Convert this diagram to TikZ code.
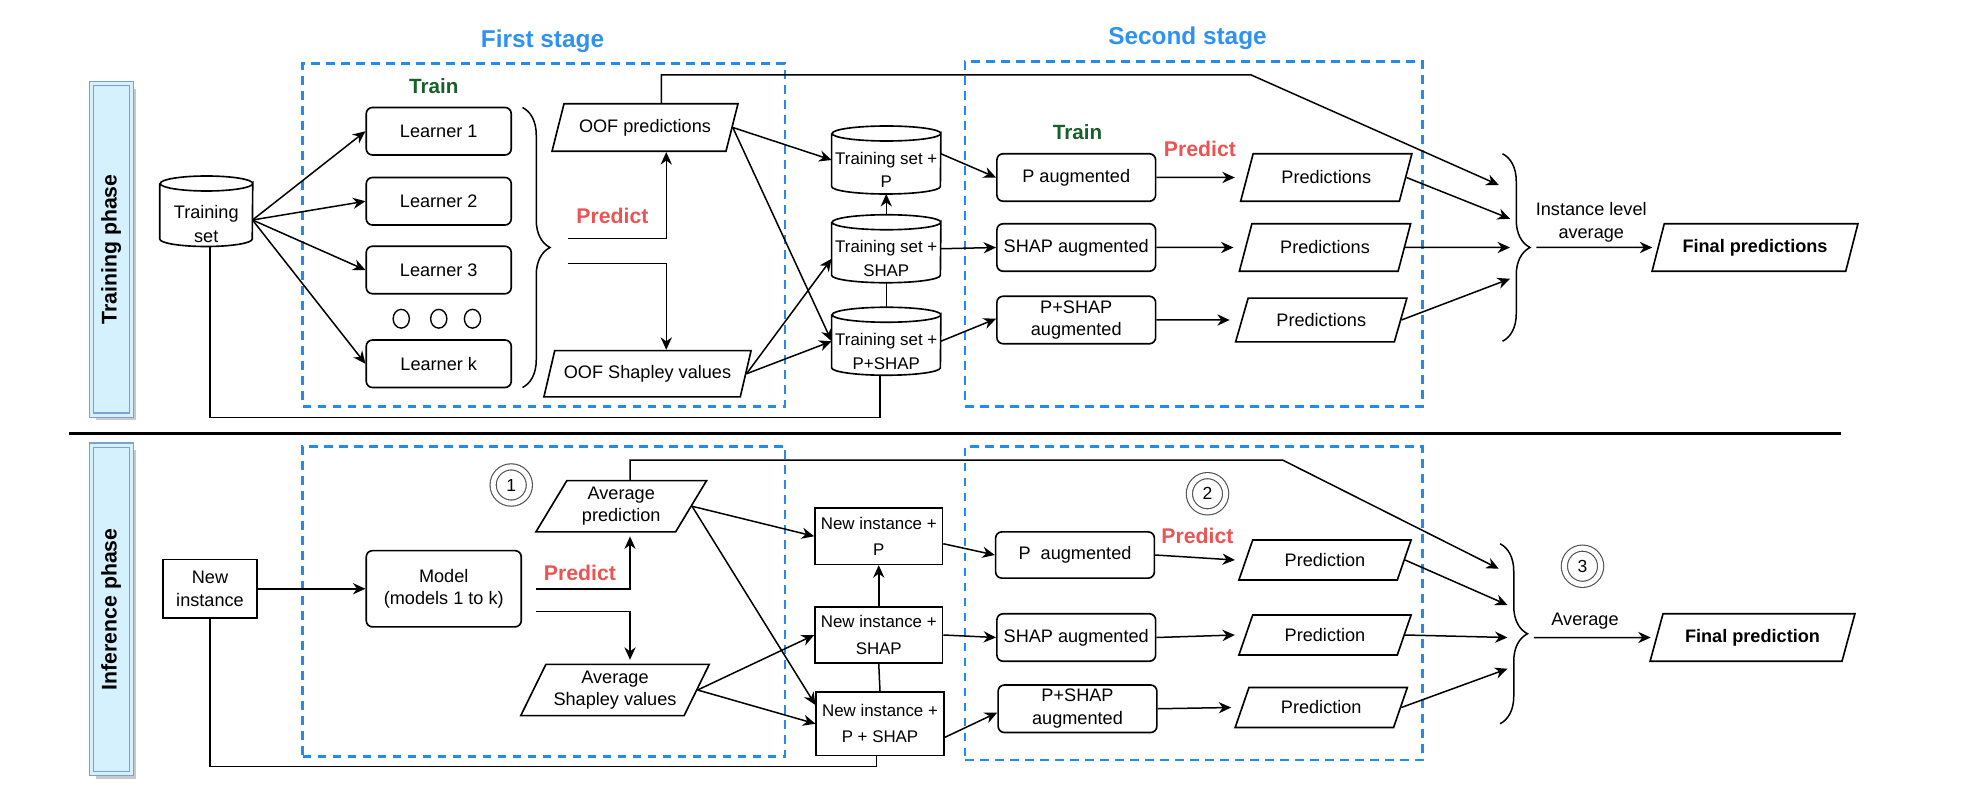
\documentclass[tikz,border=0pt]{standalone}
\usepackage{fontspec}
\setmainfont{Liberation Sans}
\usetikzlibrary{shapes.geometric,arrows.meta,decorations.pathreplacing,calc}
\definecolor{stageblue}{RGB}{47,146,240}
\definecolor{dashblue}{RGB}{33,140,235}
\definecolor{traingreen}{RGB}{22,96,42}
\definecolor{predred}{RGB}{236,84,84}
\definecolor{barfill}{RGB}{212,241,253}
\definecolor{barline}{RGB}{122,160,214}
\definecolor{shadowgray}{RGB}{200,200,200}
\definecolor{ringgray}{RGB}{80,80,80}

\newcommand\cylshape[2]{%
  \draw[boxline] ([yshift=-6pt]#1.north west) -- ([yshift=6pt]#1.south west)
    arc[start angle=180,end angle=360,x radius=#2,y radius=6pt]
    -- ([yshift=-6pt]#1.north east)
    arc[start angle=0,end angle=-180,x radius=#2,y radius=6pt]
    arc[start angle=180,end angle=0,x radius=#2,y radius=6pt];}

\begin{document}
\begin{tikzpicture}[x=1pt,y=-1pt,
  every node/.style={font=\fontsize{14.5}{18}\selectfont, inner sep=0pt, align=center, text=black},
  boxline/.style={draw=black, line width=1.3pt},
  conn/.style={draw=black, line width=1.2pt},
  arr/.style={conn, -{Stealth[length=10pt,width=9pt]}},
  learner/.style={boxline, rounded corners=5pt, minimum width=116pt, minimum height=38pt},
  augbox/.style={boxline, rounded corners=5pt, minimum width=127pt, minimum height=38pt},
  sqbox/.style={boxline, minimum width=102pt, minimum height=45pt, font=\fontsize{13.5}{21}\selectfont},
  para/.style={boxline, trapezium, trapezium left angle=60, trapezium right angle=120, trapezium stretches=true, minimum height=38pt},
  cylnode/.style={minimum width=87pt, minimum height=54pt},
  cyllabel/.style={align=center, yshift=-8pt, font=\fontsize{13.5}{19}\selectfont},
  stagebox/.style={draw=dashblue, line width=2.2pt, dash pattern=on 7pt off 5pt},
  stagetitle/.style={text=stageblue, font=\fontsize{19.5}{22}\selectfont\bfseries},
  trainlbl/.style={text=traingreen, font=\fontsize{16.5}{20}\selectfont\bfseries},
  predlbl/.style={text=predred, font=\fontsize{17}{20}\selectfont\bfseries},
  phasebar/.style={draw=barline, line width=0.9pt, double=barfill, double distance=2.4pt, fill=barfill, minimum width=32pt, font=\fontsize{17}{20}\selectfont\bfseries},
  numcirc/.style={circle, draw=ringgray, line width=0.9pt, double=white, double distance=4pt, minimum size=29pt, font=\fontsize{14}{16}\selectfont},
  dotmark/.style={ellipse, draw=black, line width=1.1pt, minimum width=13pt, minimum height=15pt},
  curly/.style={conn, decorate, decoration={brace, amplitude=22pt}},
  boldtxt/.style={font=\fontsize{14.5}{18}\selectfont\bfseries}
]
\useasboundingbox (0,0) rectangle (1569.6,641.6);

% phase bars
\fill[shadowgray] (77,71) rectangle (109,336);
\node[phasebar, minimum height=265pt] (trbar) at (89,199.5) {\rotatebox{90}{Training phase}};
\fill[shadowgray] (77,360) rectangle (109,623);
\node[phasebar, minimum height=263pt] (infbar) at (89,487.5) {\rotatebox{90}{Inference phase}};

% separator
\coordinate (sepL) at (55,347);
\coordinate (sepR) at (1473,347);
\draw[line width=2.6pt] (sepL) -- (sepR);

% stage boxes and titles
\node[stagebox, minimum width=386pt, minimum height=274pt] (stA) at (435,188) {};
\node[stagebox, minimum width=366pt, minimum height=276pt] (stB) at (955,187) {};
\node[stagebox, minimum width=386pt, minimum height=248pt] (stC) at (435,481) {};
\node[stagebox, minimum width=366pt, minimum height=251pt] (stD) at (955,482.5) {};
\node[stagetitle] (ttlA) at (434,33) {First stage};
\node[stagetitle] (ttlB) at (950,31) {Second stage};

% ---------- training phase ----------
\node[trainlbl] (trA) at (347,69) {Train};
\node[learner] (L1) at (351,105) {Learner 1};
\node[learner] (L2) at (351,161) {Learner 2};
\node[learner] (L3) at (351,216) {Learner 3};
\node[learner] (Lk) at (351,291) {Learner k};
\node[dotmark] (d1) at (321,255) {};
\node[dotmark] (d2) at (351,255) {};
\node[dotmark] (d3) at (378,255) {};

\node[cylnode, minimum width=74pt, minimum height=56pt,
  label={[cyllabel, yshift=-2pt, font=\fontsize{14.5}{19}\selectfont]center:{Training\\set}}] (tset) at (165,169) {};
\cylshape{tset}{37pt}
\coordinate (tsout) at (202,176);
\draw[arr] (tsout) -- (L1.west);
\draw[arr] (tsout) -- (L2.west);
\draw[arr] (tsout) -- (L3.west);
\draw[arr] (tsout) -- (Lk.west);

\coordinate (brAt) at (418,86);
\coordinate (brAb) at (418,310);
\draw[curly] (brAt) -- (brAb);

\node[predlbl] (prA) at (490,173) {Predict};
\node[para, minimum width=149pt] (oofp) at (516,102) {OOF predictions};
\node[para, minimum width=166pt, minimum height=37pt] (oofs) at (518,299) {OOF Shapley values};
\coordinate (pA1) at (454,191);
\coordinate (pA2) at (454,211);
\draw[arr] (pA1) -| ([xshift=17pt]oofp.south);
\draw[arr] (pA2) -| ([xshift=15pt]oofs.north);

\node[cylnode, label={[cyllabel]center:{Training set +\\P}}] (cP) at (709,128) {};
\cylshape{cP}{43.5pt}
\node[cylnode, label={[cyllabel]center:{Training set +\\SHAP}}] (cS) at (709,199) {};
\cylshape{cS}{43.5pt}
\node[cylnode, label={[cyllabel]center:{Training set +\\P+SHAP}}] (cPS) at (709,273) {};
\cylshape{cPS}{43.5pt}

\draw[arr] (oofp.east) -- (cP.west);
\draw[arr] (oofp.east) -- (cPS.west);
\draw[arr] (oofs.east) -- ([yshift=-8pt]cS.west);
\draw[arr] (oofs.east) -- (cPS.west);
\draw[arr] (cS.north) -- (cP.south);
\draw[conn] (cPS.north) -- (cS.south);

\coordinate (oofturn) at (1001,60);
\coordinate (bA0) at (1199,148);
\draw[arr] ([xshift=13pt]oofp.north) |- (oofturn) -- (bA0);

\coordinate (tloop) at (500,334);
\draw[conn] ([xshift=3pt]tset.south) |- (tloop) -| ([xshift=-5pt]cPS.south);

\node[trainlbl] (trB) at (862,106) {Train};
\node[predlbl] (prB) at (960,119) {Predict};
\node[augbox] (aP) at (861,142) {P augmented};
\node[augbox] (aS) at (861,198) {SHAP augmented};
\node[augbox] (aPS) at (861,256) {P+SHAP\\augmented};
\draw[arr] ([yshift=5pt]cP.east) -- (aP.west);
\draw[arr] (cS.east) -- (aS.west);
\draw[arr] (cPS.east) -- ([yshift=1pt]aPS.west);

\node[para, minimum width=137pt] (q1) at (1061,142) {Predictions};
\node[para, minimum width=137pt] (q2) at (1060,198) {Predictions};
\node[para, minimum width=137pt, minimum height=35pt] (q3) at (1057,256) {Predictions};
\draw[arr] (aP.east) -- ([xshift=-9pt]q1.west);
\draw[arr] (aS.east) -- ([xshift=-9pt]q2.west);
\draw[arr] (aPS.east) -- ([xshift=-9pt]q3.west);

\coordinate (brBt) at (1202,123);
\coordinate (brBb) at (1202,273);
\draw[curly] (brBt) -- (brBb);
\coordinate (bA1) at (1208,175);
\coordinate (bA2) at (1208,198);
\coordinate (bA3) at (1208,223);
\draw[arr] (q1.east) -- (bA1);
\draw[arr] (q2.east) -- (bA2);
\draw[arr] (q3.east) -- (bA3);
\node (ila) at (1273,178) {Instance level\\average};
\coordinate (bAout) at (1229,198);
\node[para, boldtxt, minimum width=165pt] (fpA) at (1404,198) {Final predictions};
\draw[arr] (bAout) -- ([xshift=-4pt]fpA.west);

% ---------- inference phase ----------
\node[sqbox, minimum width=75pt, minimum height=47pt, font=\fontsize{14.5}{19}\selectfont] (ni) at (168,471) {New\\instance};
\node[learner, minimum width=124pt, minimum height=61pt] (mdl) at (355,471) {Model\\(models 1 to k)};
\draw[arr] (ni.east) -- (mdl.west);

\node[numcirc] (n1) at (409,388) {1};
\node[para, minimum width=137pt, minimum height=41pt] (avp) at (497,405) {Average\\prediction};
\node[para, minimum width=151pt, minimum height=41pt] (avs) at (492,552) {Average\\Shapley values};
\node[predlbl] (prC) at (464,458) {Predict};
\coordinate (pC1) at (429,471);
\coordinate (pC2) at (429,489);
\draw[arr, shorten >=3pt] (pC1) -| ([xshift=7pt]avp.south);
\draw[arr, shorten >=3pt] (pC2) -| ([xshift=12pt]avs.north);

\node[sqbox] (nP) at (703,429) {New instance +\\P};
\node[sqbox] (nS) at (703,508) {New instance +\\SHAP};
\node[sqbox, minimum height=51pt] (nPS) at (704,579) {New instance +\\P + SHAP};
\draw[arr] (avp.east) -- (nP.west);
\draw[arr] (avp.east) -- ([yshift=15pt]nPS.west);
\draw[arr] (avs.east) -- (nS.west);
\draw[arr] (avs.east) -- (nPS.west);
\draw[arr] (nS.north) -- (nP.south);
\draw[conn] (nPS.north) -- (nS.south);

\coordinate (avturn) at (1026,368);
\coordinate (bC0) at (1199,455);
\draw[arr] ([xshift=7pt]avp.north) |- (avturn) -- (bC0);

\coordinate (iloop) at (500,613);
\draw[conn] (ni.south) |- (iloop) -| ([xshift=-3pt]nPS.south);

\node[numcirc] (n2) at (966,395) {2};
\node[predlbl] (prD) at (958,429) {Predict};
\node[augbox, minimum height=37pt] (iP) at (860,444) {P\ \ augmented};
\node[augbox] (iS) at (861,510) {SHAP augmented};
\node[augbox] (iPS) at (862,567) {P+SHAP\\augmented};
\draw[arr] ([yshift=-6pt]nP.east) -- (iP.west);
\draw[arr] (nS.east) -- (iS.west);
\draw[arr] ([yshift=-11pt]nPS.east) -- ([yshift=-3pt]iPS.west);

\node[para, minimum width=138pt, minimum height=32pt] (r1) at (1060,448) {Prediction};
\node[para, minimum width=138pt, minimum height=32pt] (r2) at (1060,508) {Prediction};
\node[para, minimum width=138pt, minimum height=32pt] (r3) at (1057,566) {Prediction};
\draw[arr] (iP.east) -- ([xshift=-8pt]r1.west);
\draw[arr] (iS.east) -- ([xshift=-8pt]r2.west);
\draw[arr] (iPS.east) -- ([xshift=-8pt]r3.west);

\coordinate (brCt) at (1200,435);
\coordinate (brCb) at (1200,579);
\draw[curly] (brCt) -- (brCb);
\coordinate (bC1) at (1206,484);
\coordinate (bC2) at (1206,510);
\coordinate (bC3) at (1206,535);
\draw[arr] (r1.east) -- (bC1);
\draw[arr] (r2.east) -- (bC2);
\draw[arr] (r3.east) -- (bC3);
\node[numcirc] (n3) at (1266,453) {3};
\node (avg) at (1268,497) {Average};
\coordinate (bCout) at (1227,510);
\node[para, boldtxt, minimum width=164pt] (fpC) at (1402,510) {Final prediction};
\draw[arr] (bCout) -- ([xshift=-4pt]fpC.west);
\end{tikzpicture}
\end{document}
